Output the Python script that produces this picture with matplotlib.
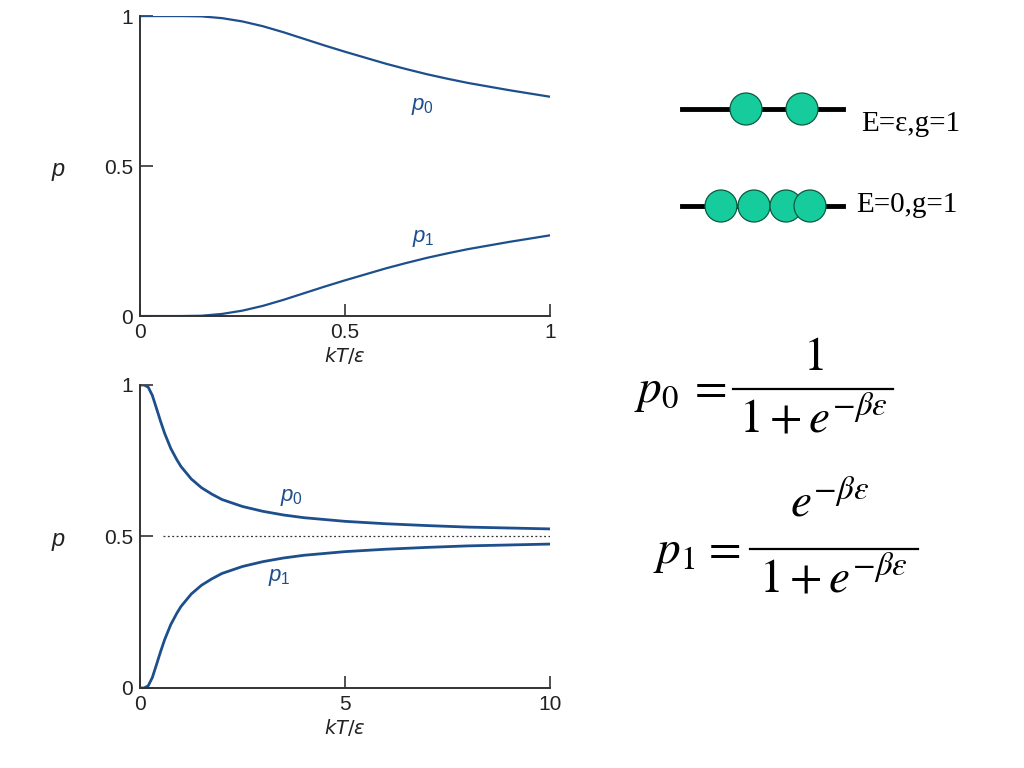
import matplotlib
matplotlib.use("Agg")
import matplotlib.pyplot as plt
from matplotlib.lines import Line2D
from matplotlib.patches import Circle

# ---------------- data ----------------
t_low = [0.0, 0.05, 0.10, 0.15, 0.20, 0.25, 0.30, 0.35, 0.40, 0.45, 0.50,
         0.55, 0.60, 0.65, 0.70, 0.75, 0.80, 0.85, 0.90, 0.95, 1.00]
p0_low = [1.000, 1.000, 1.000, 0.999, 0.993, 0.982, 0.966, 0.946, 0.924, 0.902, 0.881,
          0.861, 0.841, 0.823, 0.806, 0.791, 0.777, 0.765, 0.753, 0.742, 0.731]
p1_low = [0.000, 0.000, 0.000, 0.001, 0.007, 0.018, 0.034, 0.054, 0.076, 0.098, 0.119,
          0.139, 0.159, 0.177, 0.194, 0.209, 0.223, 0.235, 0.247, 0.258, 0.269]

t_high = [0.0, 0.1, 0.2, 0.3, 0.4, 0.5, 0.6, 0.75, 0.9, 1.0, 1.25, 1.5, 1.75, 2.0,
          2.5, 3.0, 3.5, 4.0, 5.0, 6.0, 7.0, 8.0, 9.0, 10.0]
p0_high = [1.000, 1.000, 0.993, 0.966, 0.924, 0.881, 0.841, 0.791, 0.753, 0.731, 0.690,
           0.661, 0.640, 0.622, 0.599, 0.583, 0.571, 0.562, 0.550, 0.542, 0.536,
           0.531, 0.528, 0.525]
p1_high = [0.000, 0.000, 0.007, 0.034, 0.076, 0.119, 0.159, 0.209, 0.247, 0.269, 0.310,
           0.339, 0.360, 0.378, 0.401, 0.417, 0.429, 0.438, 0.450, 0.458, 0.464,
           0.469, 0.472, 0.475]

xticks_low = [0, 0.5, 1]
xticklabels_low = ["0", "0.5", "1"]
xticks_high = [0, 5, 10]
xticklabels_high = ["0", "5", "10"]
yticks = [0, 0.5, 1]
yticklabels = ["0", "0.5", "1"]

level_labels = ["E=ε,g=1", "E=0,g=1"]

# ---------------- style ----------------
CURVE = "#1d4f8c"
TEAL = "#17cc9c"
AXC = "#333333"
plt.rcParams["font.family"] = ["Liberation Sans", "DejaVu Sans"]
plt.rcParams["mathtext.fontset"] = "custom"
plt.rcParams["mathtext.rm"] = "Liberation Sans"
plt.rcParams["mathtext.it"] = "Liberation Sans:italic"
plt.rcParams["mathtext.bf"] = "Liberation Sans:bold"

fig = plt.figure(figsize=(10.24, 7.68), dpi=100)
fig.patch.set_facecolor("white")


def style_axes(ax, xt, xtl, xmax):
    ax.set_xlim(0, xmax)
    ax.set_ylim(0, 1)
    for s in ("top", "right"):
        ax.spines[s].set_visible(False)
    for s in ("left", "bottom"):
        ax.spines[s].set_color(AXC)
        ax.spines[s].set_linewidth(1.4)
    ax.set_xticks(xt)
    ax.set_xticklabels(xtl)
    ax.set_yticks(yticks)
    ax.set_yticklabels(yticklabels)
    ax.tick_params(axis="both", direction="in", length=9, width=1.2,
                   color=AXC, labelsize=15, labelcolor="#222222", pad=5)
    ax.set_xlabel(r"$kT/\epsilon$", fontsize=14, color="#222222", labelpad=2,
                  math_fontfamily="dejavusans")
    ax.text(-0.2, 0.49, "p", transform=ax.transAxes, fontsize=17,
            style="italic", va="center", ha="center", color="#222222")


# top panel
ax1 = fig.add_axes([0.1367, 0.5885, 0.4004, 0.3906])
ax1.plot(t_low, p0_low, color=CURVE, lw=1.6)
ax1.plot(t_low, p1_low, color=CURVE, lw=1.6)
style_axes(ax1, xticks_low, xticklabels_low, 1)
ax1.text(0.69, 0.70, r"$p_0$", color=CURVE, fontsize=16, ha="center", va="center")
ax1.text(0.69, 0.26, r"$p_1$", color=CURVE, fontsize=16, ha="center", va="center")

# bottom panel
ax2 = fig.add_axes([0.1367, 0.1042, 0.4004, 0.3945])
ax2.plot(t_high, p0_high, color=CURVE, lw=2.0)
ax2.plot(t_high, p1_high, color=CURVE, lw=2.0)
ax2.plot([0.55, 10], [0.5, 0.5], color="#333333", lw=0.9, ls=(0, (1.5, 2)))
style_axes(ax2, xticks_high, xticklabels_high, 10)
ax2.text(3.7, 0.63, r"$p_0$", color=CURVE, fontsize=16, ha="center", va="center")
ax2.text(3.4, 0.366, r"$p_1$", color=CURVE, fontsize=16, ha="center", va="center")

# ---------------- energy level diagrams (pixel coords) ----------------
ov = fig.add_axes([0, 0, 1, 1])
ov.set_xlim(0, 1024)
ov.set_ylim(768, 0)
ov.set_aspect("equal")
ov.axis("off")
ov.patch.set_alpha(0)

ov.add_line(Line2D([682, 843], [109, 109], color="black", lw=3.5, zorder=1))
for cx in (746, 802):
    ov.add_patch(Circle((cx, 109), 16, facecolor=TEAL, edgecolor="#0b5a40", lw=0.9, zorder=2))
ov.add_line(Line2D([682, 843], [206, 206], color="black", lw=3.5, zorder=1))
for cx in (721, 754, 786, 810):
    ov.add_patch(Circle((cx, 206), 16, facecolor=TEAL, edgecolor="#0b5a40", lw=0.9, zorder=2))
ov.text(861, 124, level_labels[0], fontsize=21, family="Liberation Serif",
        ha="left", va="center")
ov.text(856, 205, level_labels[1], fontsize=21, family="Liberation Serif",
        ha="left", va="center")

# ---------------- formulas ----------------
FS = 34
MF = "stix"
ov.text(656, 392, r"$p_0$", fontsize=FS, ha="center", va="center", math_fontfamily=MF)
ov.text(707, 389, r"$=$", fontsize=FS, ha="center", va="center", math_fontfamily=MF)
ov.text(813, 358, r"$1$", fontsize=FS, ha="center", va="center", math_fontfamily=MF)
ov.add_line(Line2D([733, 893], [389, 389], color="black", lw=1.6))
ov.text(813, 420, r"$1+e^{-\beta\varepsilon}$", fontsize=FS, ha="center", va="center",
        math_fontfamily=MF)

ov.text(674, 553, r"$p_1$", fontsize=FS, ha="center", va="center", math_fontfamily=MF)
ov.text(721, 550, r"$=$", fontsize=FS, ha="center", va="center", math_fontfamily=MF)
ov.text(830, 505, r"$e^{-\beta\varepsilon}$", fontsize=FS, ha="center", va="center",
        math_fontfamily=MF)
ov.add_line(Line2D([750, 918], [549, 549], color="black", lw=1.6))
ov.text(833, 580, r"$1+e^{-\beta\varepsilon}$", fontsize=FS, ha="center", va="center",
        math_fontfamily=MF)

fig.savefig("out.png", dpi=100, facecolor="white")
